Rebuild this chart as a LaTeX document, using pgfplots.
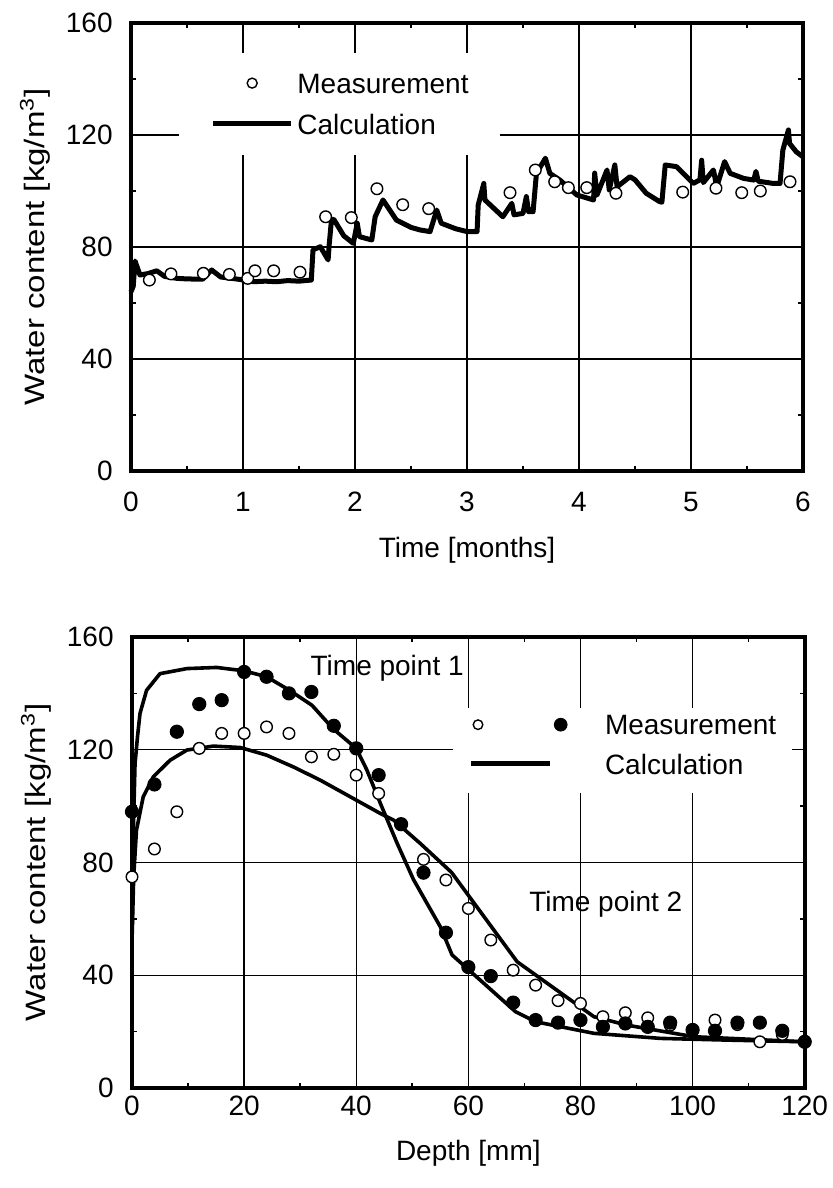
\documentclass[border=0pt]{standalone}
\usepackage{fontspec}
\setmainfont{Liberation Sans}
\newfontfamily\ylabfont{Liberation Sans}[FakeStretch=1.18]
\usepackage{pgfplots}
\pgfplotsset{compat=1.18}

% 1 px of the reference = 0.5pt
\pgfplotsset{
  wc/.style={
    scale only axis,
    clip=false,
    axis line style={line width=1.8pt},
    grid=major,
    major grid style={line width=0.7pt, black},
    minor tick num=1,
    tick align=inside,
    tick pos=both,
    major tick length=0pt,
    minor tick length=2.5pt,
    every minor tick/.append style={line width=0.8pt, black},
    ymin=0, ymax=160, ytick={0,40,80,120,160},
    /pgf/number format/assume math mode=true,
    ticklabel style={font=\fontsize{14}{16}\selectfont, inner sep=0pt},
    yticklabel style={xshift=-9pt},
    ylabel={\ylabfont Water content [kg/m\textsuperscript{3}]},
    every axis y label/.style={at={(axis description cs:-0.1429,0.5)},
      rotate=90, anchor=center, inner sep=0pt, font=\fontsize{14}{16}\selectfont},
    every axis x label/.style={at={(axis description cs:0.5,0)},
      anchor=north, inner sep=0pt, font=\fontsize{14}{16}\selectfont},
  },
  meas/.style={only marks, mark=*, mark size=2.9pt,
    mark options={line width=0.7pt, draw=black, fill=white}},
  measf/.style={only marks, mark=*, mark size=3.3pt,
    mark options={line width=0.5pt, draw=black, fill=black}},
}

\begin{document}
\begin{tikzpicture}
\path[use as bounding box] (0pt,0pt) rectangle (416.5pt,-594pt);

%% ---------- top: water content over time ----------
\begin{axis}[wc,
    at={(65.5pt,-235.5pt)}, anchor=south west,
    width=336pt, height=224pt,
    xmin=0, xmax=6, xtick={0,1,2,3,4,5,6},
    xticklabel style={yshift=-10.4pt},
    xlabel={Time [months]},
    xlabel style={yshift=-33pt},
    legend style={at={(rel axis cs:0.0714,0.933)}, anchor=north west,
      draw=none, fill=white, inner xsep=15.5pt, inner ysep=9.65pt,
      row sep=9.35pt, font=\fontsize{14}{16}\selectfont,
      cells={anchor=base west},
      nodes={inner xsep=0pt, inner ysep=0pt, text height=10.5pt, text depth=0.5pt}},
]
\addplot[black, line width=2.5pt, line join=round, forget plot] table {
0     64
0.02  66
0.036 75
0.08  70
0.15  70.5
0.23  71.5
0.30  69.5
0.41  68.8
0.50  68.6
0.64  68.5
0.72  71.8
0.80  69.3
0.90  68.8
0.973 68.4
1.09  67.6
1.20  67.8
1.30  67.6
1.40  68.0
1.50  67.8
1.61  68.2
1.625 79
1.69  80.1
1.76  75.4
1.77  81
1.79  89.7
1.81  89.9
1.90  84
1.985 81.3
2.02  88.5
2.04  83.7
2.15  82.5
2.18  90.8
2.25  96.8
2.37  89.6
2.50  87
2.58  86.1
2.67  85.5
2.73  93.2
2.77  88.5
2.90  86.5
3.00  85.5
3.09  85.5
3.10  95
3.15  102.7
3.16  96.8
3.32  90.8
3.40  95.6
3.42  91.5
3.50  92
3.53  98
3.55  92.6
3.59  92.6
3.62  106.3
3.70  111.7
3.74  106.3
3.83  103.9
3.98  98.6
4.13  96.8
4.14  106.4
4.16  98.5
4.25  107.5
4.27  100.4
4.32  109.3
4.34  101.5
4.455 105.1
4.50  104
4.60  99.2
4.72  96.2
4.74  96
4.77  109.3
4.87  108.7
5.02  102.7
5.08  104
5.095 111
5.11  103
5.20  107.5
5.23  101.5
5.30  110.5
5.35  106.3
5.47  104.5
5.56  103.9
5.58  107
5.60  103.5
5.735 102.7
5.795 102.7
5.82  114.6
5.87  121.8
5.88  117
5.94  114
6.00  112.2
};
\addplot[meas, forget plot] table {
0.164 68.2
0.357 70.4
0.646 70.6
0.878 70.2
1.042 68.8
1.107 71.5
1.274 71.5
1.509 71.0
1.738 90.8
1.967 90.5
2.196 100.8
2.426 95.1
2.658 93.7
3.384 99.4
3.610 107.5
3.783 103.3
3.905 101.2
4.069 101.2
4.330 99.2
4.926 99.6
5.223 101.0
5.453 99.4
5.619 100.0
5.884 103.3
};
\addlegendimage{legend image code/.code={
  \path[draw=none, fill=none] (0pt,0pt) -- (42.25pt,0pt);
  \draw[black, line width=0.7pt, fill=white] (19.65pt,5.3pt) circle (2.5pt);}}
\addlegendentry{Measurement}
\addlegendimage{legend image code/.code={
  \path[draw=none, fill=none] (0pt,0pt) -- (42.25pt,0pt);
  \draw[black, line width=2.5pt] (0pt,5.3pt) -- (39.15pt,5.3pt);}}
\addlegendentry{Calculation}
\end{axis}

%% ---------- bottom: water content over depth ----------
\begin{axis}[wc,
    at={(66pt,-544pt)}, anchor=south west,
    width=336.35pt, height=225.5pt,
    xmin=0, xmax=120, xtick={0,20,40,60,80,100,120},
    xticklabel style={yshift=-4pt},
    xlabel={Depth [mm]},
    xlabel style={yshift=-26pt},
    legend style={at={(rel axis cs:0.4772,0.8426)}, anchor=north west,
      draw=none, fill=white, inner xsep=7.65pt, inner ysep=2.5pt,
      row sep=9pt, font=\fontsize{14}{16}\selectfont,
      cells={anchor=base west},
      nodes={inner xsep=0pt, inner ysep=0pt, text height=10.5pt, text depth=0.5pt}},
]
% calculation, time point 1
\addplot[black, line width=1.8pt, line join=round, forget plot] table {
0     52
0.24  91.5
0.54  115
1.0   125
1.43  132.9
2.6   141.1
5     147
9.8   148.8
15.1  149.2
20    148
24    145.9
28.1  141.1
32.1  135.8
35.9  127.4
40    120.5
41.9  112.8
44.3  101
47.3  86.8
50.2  74
55    57.2
57.1  47.2
59.8  42.4
68.4  27.1
72    23.5
82.4  19.4
94.3  17.6
106.2 17.0
120   16.4
};
% calculation, time point 2
\addplot[black, line width=1.8pt, line join=round, forget plot] table {
0     52
0.3   75
0.8   91.5
2.0   103.3
3.8   110.4
6.8   116.3
9.8   119.9
14.5  121.3
19.3  120.8
24    118.1
28.8  113.9
33.6  109.2
39.5  102.7
44.3  97.4
46.7  95
51.4  86.8
57    76.5
68.7  44.8
82.4  25.3
88.3  22.3
100.2 18.2
120   16.4
};
% measurement, time point 2 (open)
\addplot[meas, forget plot] table {
0    74.9
4    84.8
8    98.0
12   120.5
16   125.8
20   125.8
24   128.1
28   125.8
32   117.5
36   118.4
40   111.0
44   104.5
48   93.5
52   81.1
56   73.8
60   63.7
64   52.5
68   41.8
72   36.5
76   31.0
80   30.0
84   25.3
88   26.7
92   24.9
96   22.3
100  20.5
104  24.1
108  22.5
112  16.4
116  19.0
120  16.4
};
% measurement, time point 1 (filled)
\addplot[measf, forget plot] table {
0    98.0
4    107.7
8    126.4
12   136.2
16   137.6
20   147.6
24   145.9
28   140.0
32   140.5
36   128.5
40   120.5
44   111.0
48   93.6
52   76.4
56   55.1
60   42.9
64   39.7
68   30.3
72   24.1
76   23.2
80   24.1
84   21.7
88   22.9
92   21.7
96   23.2
100  20.6
104  20.3
108  23.2
112  23.2
116  20.3
120  16.4
};
\node[anchor=base west, inner sep=0pt, font=\fontsize{14}{16}\selectfont]
  at (axis cs:31.8,146.5) {Time point 1};
\node[anchor=base west, inner sep=0pt, font=\fontsize{14}{16}\selectfont]
  at (axis cs:70.8,62.5) {Time point 2};
\addlegendimage{legend image code/.code={
  \path[draw=none, fill=none] (0pt,0pt) -- (66.85pt,0pt);
  \draw[black, line width=0.7pt, fill=white] (3.35pt,4.85pt) circle (2.4pt);
  \fill[black] (44.7pt,4.85pt) circle (3.2pt);}}
\addlegendentry{Measurement}
\addlegendimage{legend image code/.code={
  \path[draw=none, fill=none] (0pt,0pt) -- (66.85pt,0pt);
  \draw[black, line width=2.6pt] (0pt,5.3pt) -- (39.5pt,5.3pt);}}
\addlegendentry[text depth=7pt]{Calculation}
\end{axis}
\end{tikzpicture}
\end{document}
